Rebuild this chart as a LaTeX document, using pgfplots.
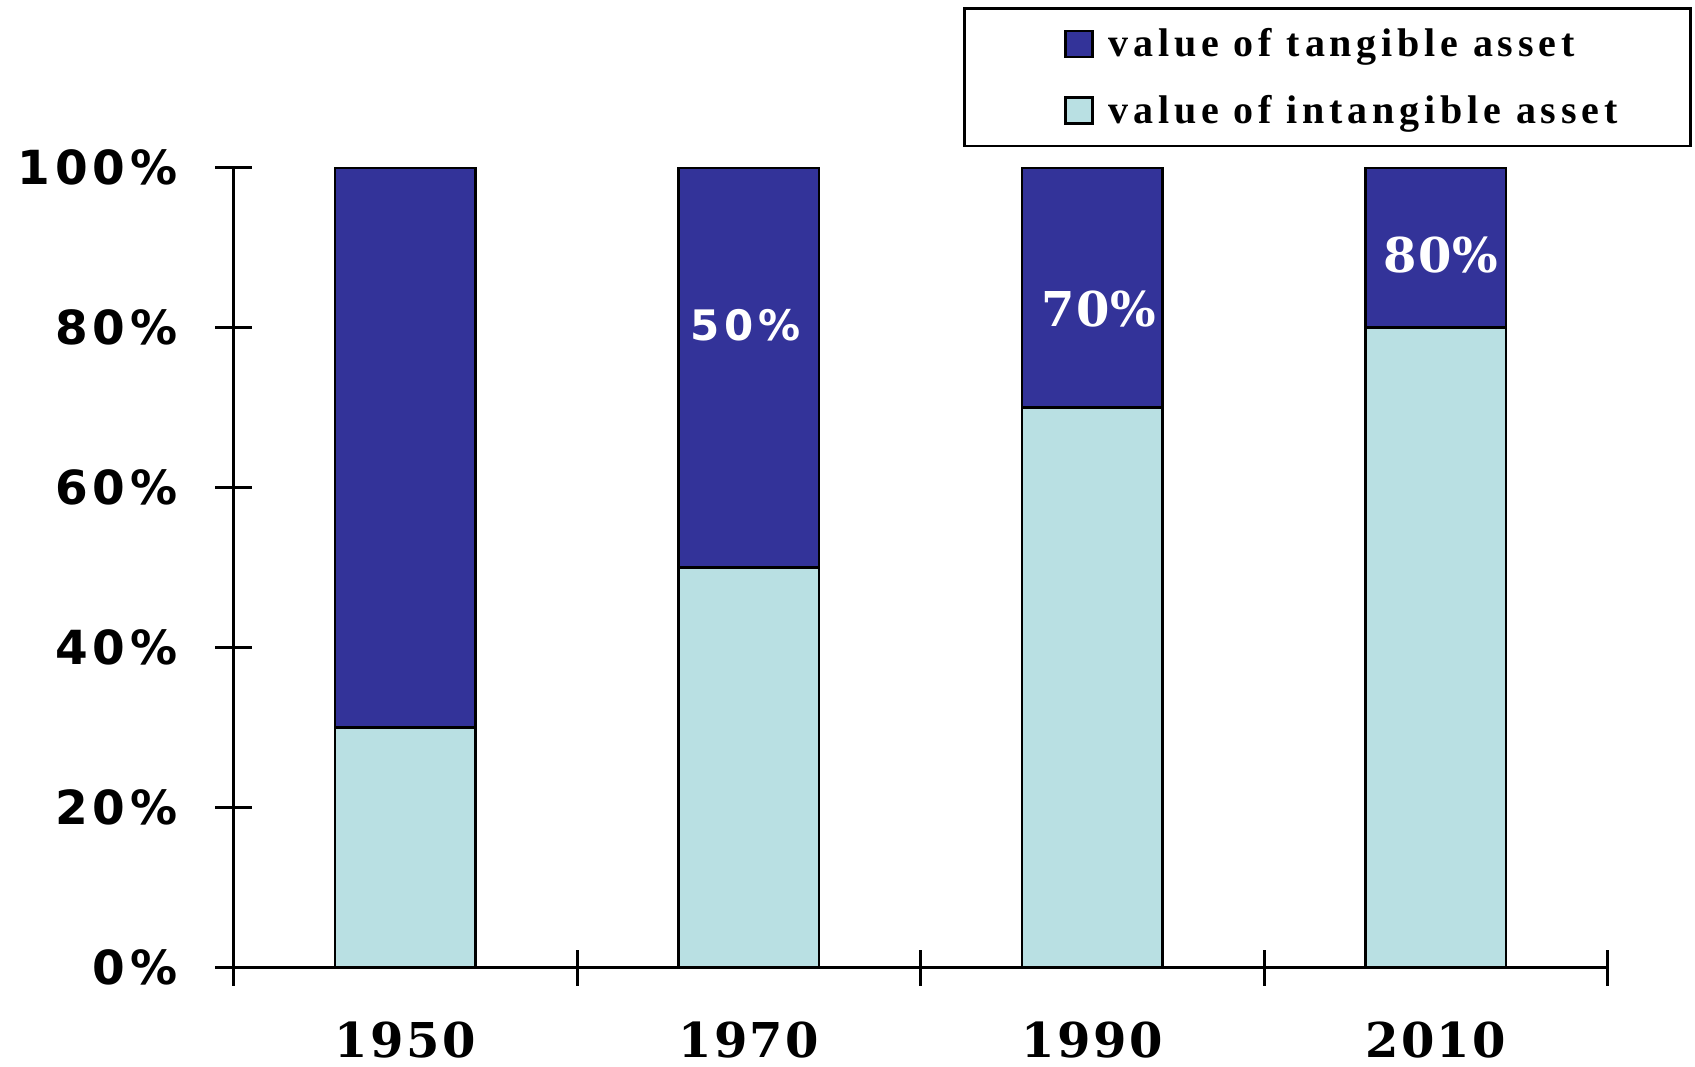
\documentclass[border=0pt]{standalone}
\usepackage{pgfplots}
\pgfplotsset{compat=1.18}
\usepackage{fontspec}
\setmainfont{Liberation Serif}
\newfontfamily\legfont{Liberation Serif}[LetterSpace=12]
\newfontfamily\ticksans{DejaVu Sans}[LetterSpace=10]
\newfontfamily\lblsans{DejaVu Sans}[LetterSpace=12]
\newfontfamily\yearserif{DejaVu Serif}[LetterSpace=5]
\newfontfamily\lblserif{DejaVu Serif}[LetterSpace=2]
\definecolor{darkblue}{HTML}{333399}
\definecolor{lightblue}{HTML}{B9E0E3}
\begin{document}
\begin{tikzpicture}
\useasboundingbox (-116.75pt,-49.25pt) rectangle (730.75pt,483.75pt);
\begin{axis}[
  at={(0pt,0pt)}, anchor=south west,
  scale only axis, width=687pt, height=400pt,
  xmin=-0.5, xmax=3.5, ymin=0, ymax=100,
  axis lines*=left,
  axis line style={line width=1.5pt},
  ybar stacked, bar width=0.41,
  xtick={-0.5,0.5,1.5,2.5,3.5}, xticklabels={},
  extra x ticks={0,1,2,3}, extra x tick labels={1950,1970,1990,2010},
  extra x tick style={major tick length=0pt, xticklabel style={anchor=center, inner sep=0pt, yshift=-36.5pt, font=\fontsize{24pt}{28pt}\selectfont\yearserif\bfseries}},
  ytick={0,20,40,60,80,100},
  yticklabels={0\%,20\%,40\%,60\%,80\%,100\%},
  yticklabel style={anchor=east, xshift=-15.6pt, font=\fontsize{23.5pt}{28pt}\selectfont\ticksans\bfseries},
  tick align=center,
  major tick length=18pt,
  tick style={line width=1.5pt, black},
  legend style={at={(rel axis cs:0.531,1.2)}, anchor=north west, draw=black, line width=1.2pt,
    font=\fontsize{20pt}{24pt}\selectfont\legfont\bfseries, inner xsep=14pt, inner ysep=8pt, row sep=13.5pt},
  legend cell align=left,
  reverse legend,
  legend image code/.code={\path (-36pt,0pt); \path (19pt,0pt); \draw[#1, line width=1.2pt, draw=black] (0pt,-6.5pt) rectangle (13.5pt,6.5pt);},
]
\addplot[fill=lightblue, draw=black, line width=1.3pt] coordinates {(0,30) (1,50) (2,70) (3,80)};
\addlegendentry{value of intangible asset\hspace*{20.5pt}}
\addplot[fill=darkblue, draw=black, line width=1.3pt] coordinates {(0,70) (1,50) (2,30) (3,20)};
\addlegendentry{value of tangible asset}
\coordinate (l50) at (axis cs:0.99,80.3);
\coordinate (l70) at (axis cs:2.02,82.3);
\coordinate (l80) at (axis cs:3.015,89.1);
\end{axis}
\node[font=\fontsize{21pt}{25pt}\selectfont\lblsans\bfseries, text=white, inner sep=0pt] at (l50) {50\%};
\node[font=\fontsize{24pt}{28pt}\selectfont\lblserif\bfseries, text=white, inner sep=0pt] at (l70) {70\%};
\node[font=\fontsize{24pt}{28pt}\selectfont\lblserif\bfseries, text=white, inner sep=0pt] at (l80) {80\%};
\end{tikzpicture}
\end{document}
